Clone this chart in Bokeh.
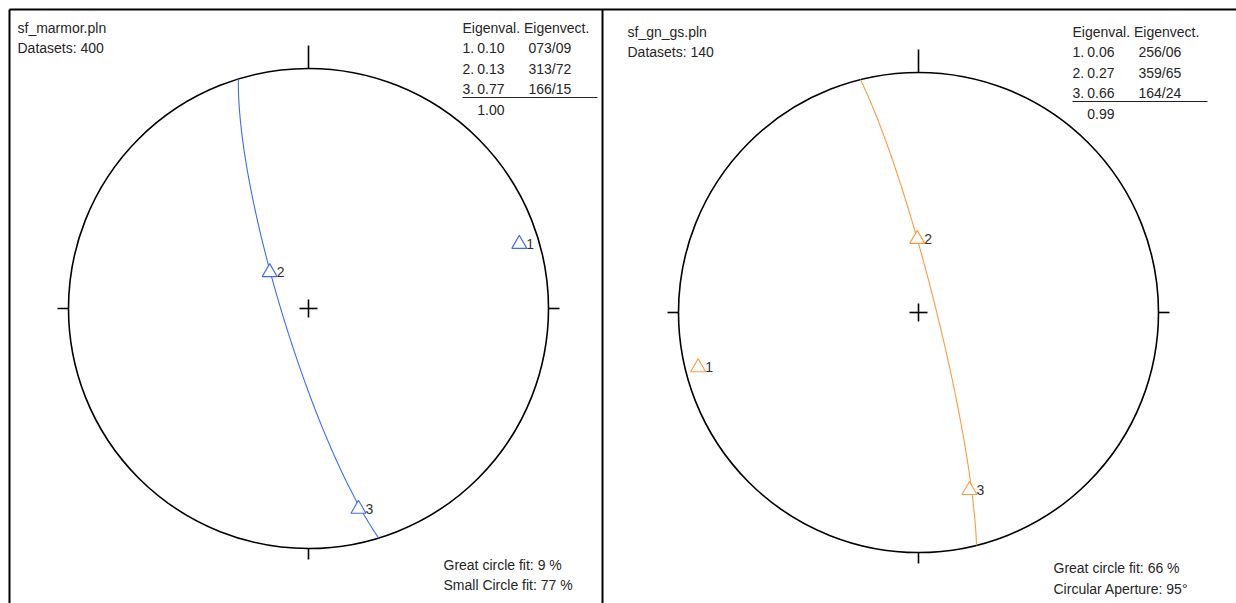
import numpy as np
from bokeh.plotting import figure
from bokeh.models import Range1d
from bokeh.embed import file_html
from bokeh.resources import INLINE
from bokeh.core.properties import value

# ---------------- data ----------------
file_names = ["sf_marmor.pln", "sf_gn_gs.pln"]
dataset_counts = [400, 140]

eigval_left = [0.10, 0.13, 0.77]
trend_left = [73, 313, 166]
plunge_left = [9, 72, 15]
total_left = 1.00

eigval_right = [0.06, 0.27, 0.66]
trend_right = [256, 359, 164]
plunge_right = [6, 65, 24]
total_right = 0.99

fit_left = ["Great circle fit: 9 %", "Small Circle fit: 77 %"]
fit_right = ["Great circle fit: 66 %", "Circular Aperture: 95°"]

# ---------------- styling / layout ----------------
FONT = value("Liberation Sans")
TXT = "#262626"
R = 240
panels = [
    dict(cx=308, cy=308, dx=0, dy=0, color="#3b6cf5",
         ev=eigval_left, tr=trend_left, pl=plunge_left, tot=total_left, fit=fit_left,
         fit_y=[564, 584]),
    dict(cx=918, cy=312, dx=610, dy=4, color="#ff9a3c",
         ev=eigval_right, tr=trend_right, pl=plunge_right, tot=total_right, fit=fit_right,
         fit_y=[567, 588]),
]


def tp_vec(tr, pl):
    tr, pl = np.radians(tr), np.radians(pl)
    return np.array([np.cos(pl) * np.sin(tr), np.cos(pl) * np.cos(tr), np.sin(pl)])


def project(v):
    e, n, d = v
    h = np.hypot(e, n)
    h = np.where(h == 0, 1e-12, h)
    r = np.sqrt(np.clip(1 - d, 0, None))
    return r * e / h, r * n / h


p = figure(width=1236, height=603, x_range=Range1d(0, 1236), y_range=Range1d(603, 0),
           output_backend="svg", toolbar_location=None, min_border=0,
           x_axis_type=None, y_axis_type=None)
p.grid.visible = False
p.outline_line_color = None
p.background_fill_color = "white"
p.border_fill_color = "white"

# frame lines
p.line(x=[9, 1236], y=[9, 9], line_color="black", line_width=2)
p.line(x=[9, 9], y=[9, 603], line_color="black", line_width=2)
p.line(x=[602, 602], y=[9, 603], line_color="black", line_width=2)

for k, P in enumerate(panels):
    cx, cy, dx, dy, col = P["cx"], P["cy"], P["dx"], P["dy"], P["color"]
    # primitive circle
    p.circle(x=[cx], y=[cy], radius=R, fill_color=None, line_color="black", line_width=1.6)
    # ticks
    p.segment(x0=[cx, cx, cx - R, cx + R], y0=[cy - R, cy + R, cy, cy],
              x1=[cx, cx, cx - R - 11, cx + R + 11], y1=[cy - R - 23, cy + R + 11, cy, cy],
              line_color="black", line_width=1.6)
    # center cross
    p.segment(x0=[cx - 9, cx], y0=[cy, cy - 9], x1=[cx + 9, cx], y1=[cy, cy + 9],
              line_color="black", line_width=1.6)

    # best-fit great circle (pole = eigenvector 1)
    tp0, pp0 = P["tr"][0], P["pl"][0]
    s = tp_vec(tp0 + 90, 0)
    dv = tp_vec(tp0 + 180, 90 - pp0)
    t = np.linspace(0, np.pi, 400)
    vv = np.outer(s, np.cos(t)) + np.outer(dv, np.sin(t))
    gx, gy = project(vv)
    p.line(x=cx + R * gx, y=cy - R * gy, line_color=col, line_width=1.1)

    # eigenvectors
    px, py = [], []
    for tr, pl in zip(P["tr"], P["pl"]):
        x, y = project(tp_vec(tr, pl))
        px.append(cx + R * float(x))
        py.append(cy - R * float(y))
    p.scatter(x=px, y=py, marker="triangle", size=15, fill_color="white",
              line_color=col, line_width=1.1)
    p.text(x=[x + 7 for x in px], y=[y for y in py], text=["1", "2", "3"],
           text_font=FONT, text_font_size="14px", text_color="#333333",
           text_baseline="middle", text_align="left")

    # header texts
    p.text(x=[17 + dx, 17 + dx], y=[27 + dy, 47 + dy],
           text=[file_names[k], f"Datasets: {dataset_counts[k]}"],
           text_font=FONT, text_font_size="14px", text_color=TXT,
           text_baseline="middle", text_align="left")

    # eigen table
    p.text(x=[462 + dx], y=[27 + dy], text=["Eigenval. Eigenvect."],
           text_font=FONT, text_font_size="14px", text_color=TXT,
           text_baseline="middle", text_align="left")
    rows_y = [47 + dy, 68 + dy, 88 + dy]
    p.text(x=[462 + dx] * 3, y=rows_y, text=["1.", "2.", "3."],
           text_font=FONT, text_font_size="14px", text_color=TXT,
           text_baseline="middle", text_align="left")
    p.text(x=[504 + dx] * 3 + [504 + dx], y=rows_y + [109 + dy],
           text=[f"{v:.2f}" for v in P["ev"]] + [f"{P['tot']:.2f}"],
           text_font=FONT, text_font_size="14px", text_color=TXT,
           text_baseline="middle", text_align="right")
    p.text(x=[528 + dx] * 3, y=rows_y,
           text=[f"{tr:03d}/{pl:02d}" for tr, pl in zip(P["tr"], P["pl"])],
           text_font=FONT, text_font_size="14px", text_color=TXT,
           text_baseline="middle", text_align="left")
    p.line(x=[462 + dx, 597 + dx], y=[97 + dy, 97 + dy], line_color="#222222", line_width=1)

    # fit texts
    p.text(x=[443 + dx, 443 + dx], y=P["fit_y"], text=P["fit"],
           text_font=FONT, text_font_size="14px", text_color=TXT,
           text_baseline="middle", text_align="left")

open("out.html", "w").write(file_html(p, INLINE))
